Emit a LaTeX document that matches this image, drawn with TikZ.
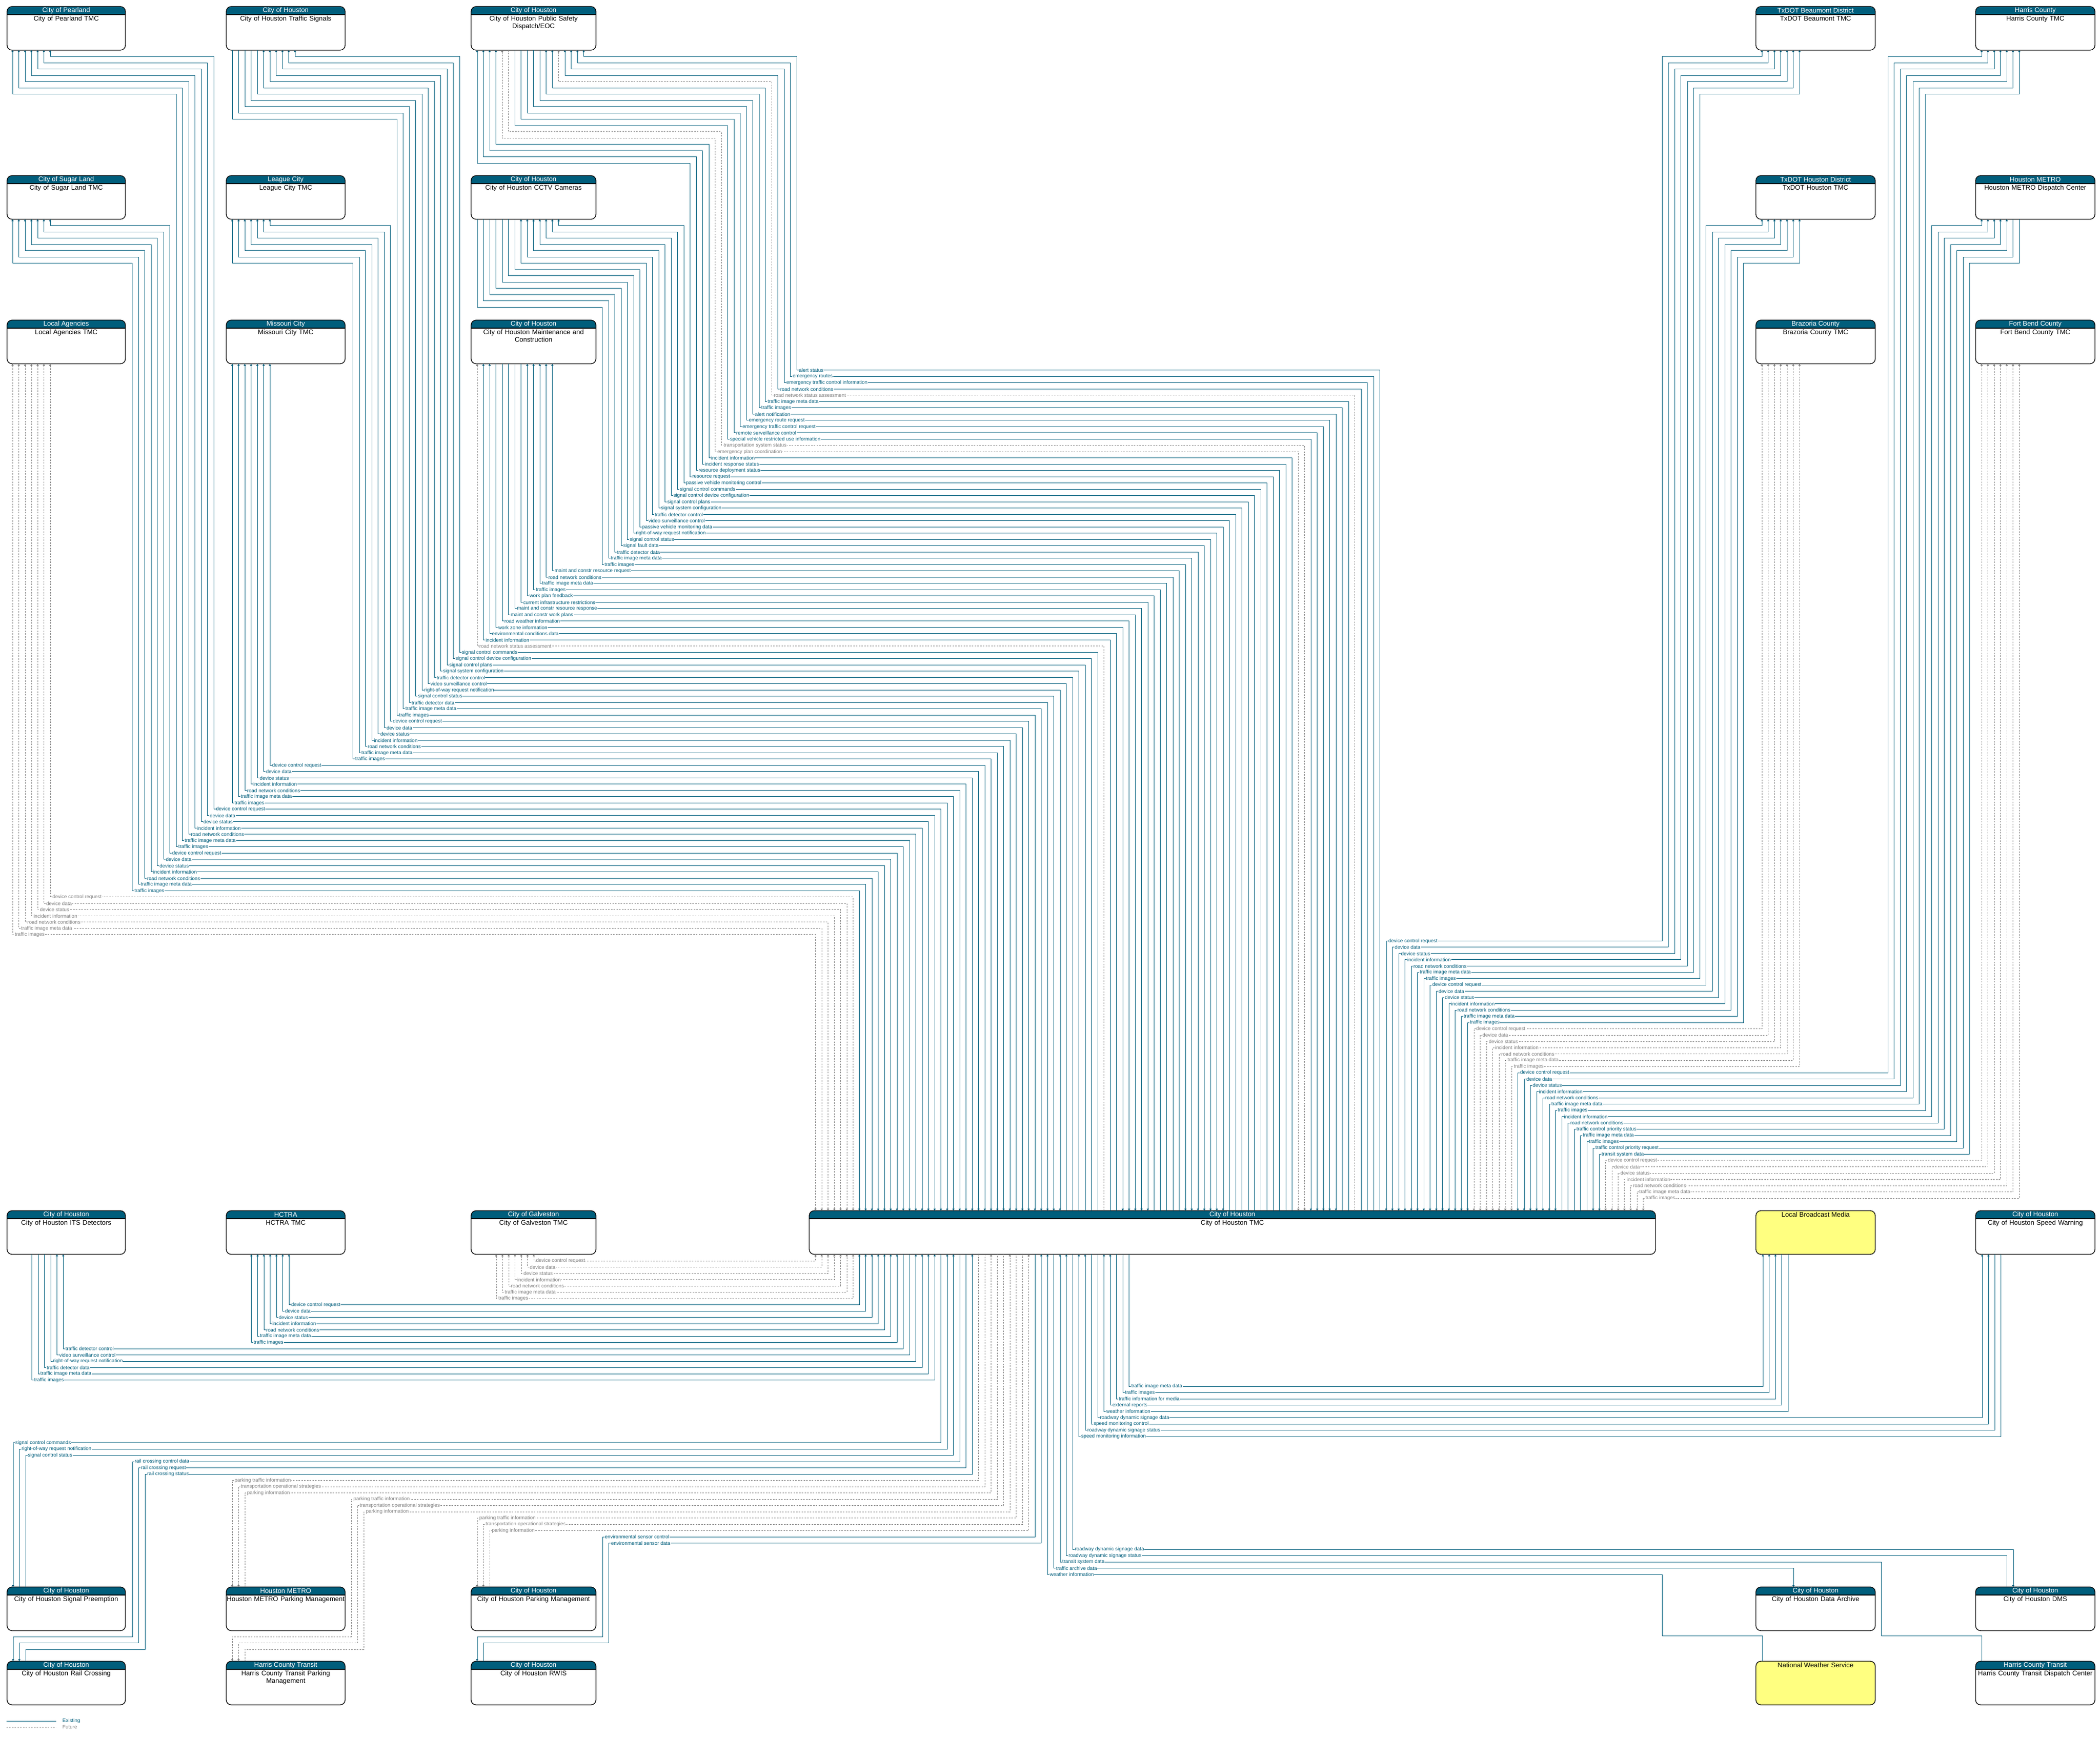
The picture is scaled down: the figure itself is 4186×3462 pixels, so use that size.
\documentclass[tikz,border=0pt]{standalone}
\usepackage{fontspec}
\setmainfont{Liberation Sans}
\usetikzlibrary{arrows.meta,fit}
\definecolor{hdr}{RGB}{0,94,124}
\definecolor{lineblue}{RGB}{0,94,124}
\definecolor{linegray}{RGB}{128,128,128}
\definecolor{mediayellow}{RGB}{255,255,128}
\newcommand\nodefont{\fontsize{3.8pt}{4.26pt}\selectfont}
\newcommand\labfont{\fontsize{2.85pt}{3.2pt}\selectfont}
\tikzset{
 >={Triangle[length=0.38mm,width=0.42mm]},
 ar/.is choice, ar/N/.style={<-}, ar/T/.style={->}, ar/B/.style={<->},
 flow/.is choice,
 flow/E/.style={draw=lineblue,line width=0.1mm},
 flow/F/.style={draw=linegray,line width=0.1mm,dash pattern=on 0.3mm off 0.25mm},
 lab/.is choice,
 lab/E/.style={text=lineblue},
 lab/F/.style={text=linegray},
 flab/.style={font=\labfont,fill=white,inner xsep=0.08mm,inner ysep=0pt,anchor=west},
 boxline/.style={draw=black,line width=0.14mm},
}
\newcommand\sysbox[7]{%
 \fill[white,rounded corners=1mm] (#2,#3) rectangle (#4,#5);
 \begin{scope}
  \clip (#2,#3) rectangle (#4,{#3+16});
  \fill[hdr,rounded corners=1mm] (#2,#3) rectangle (#4,#5);
 \end{scope}
 \draw[boxline] (#2,{#3+16}) -- (#4,{#3+16});
 \node[boxline,rounded corners=1mm,inner sep=0pt,outer sep=0pt,fit={(#2,#3) (#4,#5)}] (#1) {};
 \pgfmathsetmacro\bw{(#4-#2-2)*0.1}
 \node[font=\nodefont,text=white,inner sep=0pt] (#1-h) at ({(#2+#4)/2},{#3+8}) {#6};
 \node[font=\nodefont,text=black,inner sep=0pt,text width=\bw mm,align=center,anchor=north,
   execute at begin node={\hyphenpenalty=10000\exhyphenpenalty=10000}] (#1-b) at ({(#2+#4)/2},{#3+18}) {#7};
}
\newcommand\extbox[6]{%
 \node[boxline,fill=mediayellow,rounded corners=1mm,inner sep=0pt,outer sep=0pt,fit={(#2,#3) (#4,#5)}] (#1) {};
 \node[font=\nodefont,text=black,inner sep=0pt] (#1-h) at ({(#2+#4)/2},{#3+8}) {#6};
}
% top-left groups: node, r0, px0, y10, c0, direct(1/0), list
\newcommand\TLgroup[7]{%
 \edef\grplist{#7}%
 \foreach \Lb/\Fs/\Fa [count=\i from 0] in \grplist {%
  \pgfmathsetmacro\cc{#5-12.5*\i}%
  \pgfmathsetmacro\yr{738+12.5*(#2+\i)}%
  \pgfmathsetmacro\tx{2750.5-12.5*(#2+\i)}%
  \ifnum#6=1\relax
   \draw[flow=\Fs,ar=\Fa] (\cc,0|-#1.south) -- (\cc,\yr) -- (\tx,\yr) -- (\tx,0|-tmc.north);%
  \else
   \pgfmathsetmacro\px{#3-12.5*\i}%
   \pgfmathsetmacro\yy{#4+12.5*\i}%
   \draw[flow=\Fs,ar=\Fa] (\px,0|-#1.south) -- (\px,\yy) -- (\cc,\yy) -- (\cc,\yr) -- (\tx,\yr) -- (\tx,0|-tmc.north);%
  \fi
  \node[flab,lab=\Fs] (#1-l\i) at (\cc+3,\yr) {\Lb};%
 }%
}
% top-right groups: node, j0, px0, y10, c0, direct, list
\newcommand\TRgroup[7]{%
 \edef\grplist{#7}%
 \foreach \Lb/\Fs/\Fa [count=\i from 0] in \grplist {%
  \pgfmathsetmacro\cc{#5+12.5*\i}%
  \pgfmathsetmacro\yr{1875.5+12.5*(#2+\i)}%
  \pgfmathsetmacro\tx{2763+12.5*(#2+\i)}%
  \ifnum#6=1\relax
   \draw[flow=\Fs,ar=\Fa] (\cc,0|-#1.south) -- (\cc,\yr) -- (\tx,\yr) -- (\tx,0|-tmc.north);%
  \else
   \pgfmathsetmacro\px{#3+12.5*\i}%
   \pgfmathsetmacro\yy{#4+12.5*\i}%
   \draw[flow=\Fs,ar=\Fa] (\px,0|-#1.south) -- (\px,\yy) -- (\cc,\yy) -- (\cc,\yr) -- (\tx,\yr) -- (\tx,0|-tmc.north);%
  \fi
  \node[flab,lab=\Fs] (#1-l\i) at (\tx+3,\yr) {\Lb};%
 }%
}
% bottom-left, node above: node, b0, k0, c0, list
\newcommand\BLup[5]{%
 \edef\grplist{#5}%
 \foreach \Lb/\Fs/\Fa [count=\i from 0] in \grplist {%
  \pgfmathsetmacro\cc{#4-12.5*\i}%
  \pgfmathsetmacro\yb{2513+12.5*(#2+\i)}%
  \pgfmathsetmacro\tx{1625.5+12.5*(#3+\i)}%
  \draw[flow=\Fs,ar=\Fa] (\cc,0|-#1.south) -- (\cc,\yb) -- (\tx,\yb) -- (\tx,0|-tmc.south);%
  \node[flab,lab=\Fs] (#1-l\i) at (\cc+3,\yb) {\Lb};%
 }%
}
% bottom-left, node below, direct
\newcommand\BLdown[5]{%
 \edef\grplist{#5}%
 \foreach \Lb/\Fs/\Fa [count=\i from 0] in \grplist {%
  \pgfmathsetmacro\cc{#4+12.5*\i}%
  \pgfmathsetmacro\yb{2513+12.5*(#2+\i)}%
  \pgfmathsetmacro\tx{1625.5+12.5*(#3+\i)}%
  \draw[flow=\Fs,ar=\Fa] (\cc,0|-#1.north) -- (\cc,\yb) -- (\tx,\yb) -- (\tx,0|-tmc.south);%
  \node[flab,lab=\Fs] (#1-l\i) at (\cc+3,\yb) {\Lb};%
 }%
}
% bottom-left, node below with jog: node, b0, k0, px0, c0, list
\newcommand\BLjog[6]{%
 \edef\grplist{#6}%
 \foreach \Lb/\Fs/\Fa [count=\i from 0] in \grplist {%
  \pgfmathsetmacro\px{#4+12.5*\i}%
  \pgfmathsetmacro\yy{3262+12.5*\i}%
  \pgfmathsetmacro\cc{#5+12.5*\i}%
  \pgfmathsetmacro\yb{2513+12.5*(#2+\i)}%
  \pgfmathsetmacro\tx{1625.5+12.5*(#3+\i)}%
  \draw[flow=\Fs,ar=\Fa] (\px,0|-#1.north) -- (\px,\yy) -- (\cc,\yy) -- (\cc,\yb) -- (\tx,\yb) -- (\tx,0|-tmc.south);%
  \node[flab,lab=\Fs] (#1-l\i) at (\cc+3,\yb) {\Lb};%
 }%
}
% bottom-right, node above: node, b0, k0, px0, list
\newcommand\BRup[5]{%
 \edef\grplist{#5}%
 \foreach \Lb/\Fs/\Fa [count=\i from 0] in \grplist {%
  \pgfmathsetmacro\px{#4+12.5*\i}%
  \pgfmathsetmacro\yb{2513+12.5*(#2+\i)}%
  \pgfmathsetmacro\tx{1625.5+12.5*(#3-\i)}%
  \draw[flow=\Fs,ar=\Fa] (\px,0|-#1.south) -- (\px,\yb) -- (\tx,\yb) -- (\tx,0|-tmc.south);%
  \node[flab,lab=\Fs] (#1-l\i) at (\tx+3,\yb) {\Lb};%
 }%
}
% bottom-right, node below
\newcommand\BRdown[5]{%
 \edef\grplist{#5}%
 \foreach \Lb/\Fs/\Fa [count=\i from 0] in \grplist {%
  \pgfmathsetmacro\px{#4-12.5*\i}%
  \pgfmathsetmacro\yb{2513+12.5*(#2+\i)}%
  \pgfmathsetmacro\tx{1625.5+12.5*(#3-\i)}%
  \draw[flow=\Fs,ar=\Fa] (\px,0|-#1.north) -- (\px,\yb) -- (\tx,\yb) -- (\tx,0|-tmc.south);%
  \node[flab,lab=\Fs] (#1-l\i) at (\tx+3,\yb) {\Lb};%
 }%
}
\def\peerE{device control request/E/B,device data/E/B,device status/E/B,incident information/E/B,road network conditions/E/B,traffic image meta data/E/B,traffic images/E/B}
\def\peerF{device control request/F/B,device data/F/B,device status/F/B,incident information/F/B,road network conditions/F/B,traffic image meta data/F/B,traffic images/F/B}
\def\parkF{parking traffic information/F/N,transportation operational strategies/F/N,parking information/F/T}
\begin{document}
\begin{tikzpicture}[x=0.1mm,y=-0.1mm]
\useasboundingbox (0,0) rectangle (4186,3462);
\fill[white] (0,0) rectangle (4186,3462);
% ---------- nodes ----------
\sysbox{pear}{14}{13}{250}{100}{City of Pearland}{City of Pearland TMC}
\sysbox{sig}{451}{13}{688}{100}{City of Houston}{City of Houston Traffic Signals}
\sysbox{ps}{939}{13}{1188}{100}{City of Houston}{City of Houston Public Safety\\Dispatch/EOC}
\sysbox{bmt}{3500}{13}{3738}{100}{TxDOT Beaumont District}{TxDOT Beaumont TMC}
\sysbox{harris}{3938}{13}{4176}{100}{Harris County}{Harris County TMC}
\sysbox{sugar}{14}{350}{250}{437}{City of Sugar Land}{City of Sugar Land TMC}
\sysbox{league}{451}{350}{688}{437}{League City}{League City TMC}
\sysbox{cctv}{939}{350}{1188}{437}{City of Houston}{City of Houston CCTV Cameras}
\sysbox{txh}{3500}{350}{3738}{437}{TxDOT Houston District}{TxDOT Houston TMC}
\sysbox{metro}{3938}{350}{4176}{437}{Houston METRO}{Houston METRO Dispatch Center}
\sysbox{local}{14}{638}{250}{725}{Local Agencies}{Local Agencies TMC}
\sysbox{mo}{451}{638}{688}{725}{Missouri City}{Missouri City TMC}
\sysbox{maint}{939}{638}{1188}{725}{City of Houston}{City of Houston Maintenance and\\Construction}
\sysbox{braz}{3500}{638}{3738}{725}{Brazoria County}{Brazoria County TMC}
\sysbox{fb}{3938}{638}{4176}{725}{Fort Bend County}{Fort Bend County TMC}
\sysbox{its}{14}{2413}{250}{2500}{City of Houston}{City of Houston ITS Detectors}
\sysbox{hctra}{451}{2413}{688}{2500}{HCTRA}{HCTRA TMC}
\sysbox{galv}{939}{2413}{1188}{2500}{City of Galveston}{City of Galveston TMC}
\sysbox{tmc}{1613}{2413}{3300}{2500}{City of Houston}{City of Houston TMC}
\extbox{media}{3500}{2413}{3738}{2500}{Local Broadcast Media}
\sysbox{speed}{3938}{2413}{4176}{2500}{City of Houston}{City of Houston Speed Warning}
\sysbox{sigp}{14}{3163}{250}{3250}{City of Houston}{City of Houston Signal Preemption}
\sysbox{mpark}{451}{3163}{688}{3250}{Houston METRO}{Houston METRO Parking Management}
\sysbox{cpark}{939}{3163}{1188}{3250}{City of Houston}{City of Houston Parking Management}
\sysbox{arch}{3500}{3163}{3738}{3250}{City of Houston}{City of Houston Data Archive}
\sysbox{dms}{3938}{3163}{4176}{3250}{City of Houston}{City of Houston DMS}
\sysbox{rail}{14}{3311}{250}{3398}{City of Houston}{City of Houston Rail Crossing}
\sysbox{hcpark}{451}{3311}{688}{3398}{Harris County Transit}{Harris County Transit Parking\\Management}
\sysbox{rwis}{939}{3311}{1188}{3398}{City of Houston}{City of Houston RWIS}
\extbox{nws}{3500}{3311}{3738}{3398}{National Weather Service}
\sysbox{hctd}{3938}{3311}{4176}{3398}{Harris County Transit}{Harris County Transit Dispatch Center}
% ---------- top-left flows ----------
\TLgroup{ps}{0}{1163.5}{113}{1588}{0}{alert status/E/N,emergency routes/E/N,emergency traffic control information/E/N,road network conditions/E/N,road network status assessment/F/N,traffic image meta data/E/N,traffic images/E/N,alert notification/E/T,emergency route request/E/T,emergency traffic control request/E/T,remote surveillance control/E/T,special vehicle restricted use information/E/T,transportation system status/F/T,emergency plan coordination/F/B,incident information/E/N,incident response status/E/N,resource deployment status/E/N,resource request/E/N}
\TLgroup{cctv}{18}{1113.5}{450}{1363}{0}{passive vehicle monitoring control/E/N,signal control commands/E/N,signal control device configuration/E/N,signal control plans/E/N,signal system configuration/E/N,traffic detector control/E/N,video surveillance control/E/N,passive vehicle monitoring data/E/T,right-of-way request notification/E/T,signal control status/E/T,signal fault data/E/T,traffic detector data/E/T,traffic image meta data/E/T,traffic images/E/T}
\TLgroup{maint}{32}{0}{0}{1101}{1}{maint and constr resource request/E/N,road network conditions/E/N,traffic image meta data/E/N,traffic images/E/N,work plan feedback/E/N,current infrastructure restrictions/E/T,maint and constr resource response/E/T,maint and constr work plans/E/T,road weather information/E/T,work zone information/E/T,environmental conditions data/E/N,incident information/E/N,road network status assessment/F/N}
\TLgroup{sig}{45}{588}{113}{916}{0}{signal control commands/E/N,signal control device configuration/E/N,signal control plans/E/N,signal system configuration/E/N,traffic detector control/E/N,video surveillance control/E/N,right-of-way request notification/E/T,signal control status/E/T,traffic detector data/E/T,traffic image meta data/E/T,traffic images/E/T}
\TLgroup{league}{56}{538}{450}{778.5}{0}{\peerE}
\TLgroup{mo}{63}{0}{0}{538}{1}{\peerE}
\TLgroup{pear}{70}{100}{113}{426}{0}{\peerE}
\TLgroup{sugar}{77}{100}{450}{338.5}{0}{\peerE}
\TLgroup{local}{84}{0}{0}{100}{1}{\peerF}
% ---------- top-right flows ----------
\TRgroup{bmt}{0}{3512}{113}{3313}{0}{\peerE}
\TRgroup{txh}{7}{3512}{450}{3400.5}{0}{\peerE}
\TRgroup{braz}{14}{0}{0}{3512}{1}{\peerF}
\TRgroup{harris}{21}{3950}{113}{3763}{0}{\peerE}
\TRgroup{metro}{28}{3950}{450}{3850.5}{0}{incident information/E/N,road network conditions/E/N,traffic control priority status/E/N,traffic image meta data/E/N,traffic images/E/N,traffic control priority request/E/T,transit system data/E/T}
\TRgroup{fb}{35}{0}{0}{3950}{1}{\peerF}
% ---------- bottom flows ----------
\BLup{galv}{0}{0}{1064}{\peerF}
\BLup{hctra}{7}{7}{576}{\peerE}
\BLup{its}{14}{14}{126}{traffic detector control/E/N,video surveillance control/E/N,right-of-way request notification/E/T,traffic detector data/E/T,traffic image meta data/E/T,traffic images/E/T}
\BRup{media}{20}{50}{3514}{traffic image meta data/E/N,traffic images/E/N,traffic information for media/E/N,external reports/E/T,weather information/E/T}
\BRup{speed}{25}{45}{3951}{roadway dynamic signage data/E/N,speed monitoring control/E/N,roadway dynamic signage status/E/T,speed monitoring information/E/T}
\BLdown{sigp}{29}{20}{26}{signal control commands/E/N,right-of-way request notification/E/T,signal control status/E/T}
\BLjog{rail}{32}{23}{26}{264}{rail crossing control data/E/N,rail crossing request/E/N,rail crossing status/E/T}
\BLdown{mpark}{35}{26}{463}{\parkF}
\BLjog{hcpark}{38}{29}{463}{700}{\parkF}
\BLdown{cpark}{41}{32}{951}{\parkF}
\BLjog{rwis}{44}{35}{951}{1201}{environmental sensor control/E/N,environmental sensor data/E/T}
\BRdown{dms}{46}{41}{4013}{roadway dynamic signage data/E/N,roadway dynamic signage status/E/T}
\draw[flow=E,ar=T] (3950,0|-hctd.north) -- (3950,3260) -- (3750,3260) -- (3750,3113) -- (2113,3113) -- (2113,0|-tmc.south);
\node[flab,lab=E] (hctd-l0) at (2116,3113) {transit system data};
\draw[flow=E,ar=N] (3575,0|-arch.north) -- (3575,3125.5) -- (2100.5,3125.5) -- (2100.5,0|-tmc.south);
\node[flab,lab=E] (arch-l0) at (2103.5,3125.5) {traffic archive data};
\draw[flow=E,ar=T] (3513,0|-nws.north) -- (3513,3260) -- (3313,3260) -- (3313,3138) -- (2088,3138) -- (2088,0|-tmc.south);
\node[flab,lab=E] (nws-l0) at (2091,3138) {weather information};
% ---------- legend ----------
\coordinate (lgEa) at (13,3430); \coordinate (lgEb) at (112,3430);
\coordinate (lgFa) at (13,3442); \coordinate (lgFb) at (112,3442);
\draw[flow=E] (lgEa) -- (lgEb);
\draw[flow=F] (lgFa) -- (lgFb);
\node[font=\labfont,text=lineblue,anchor=west,inner sep=0pt] (lgE) at (124,3430) {Existing};
\node[font=\labfont,text=linegray,anchor=west,inner sep=0pt] (lgF) at (124,3442) {Future};
\end{tikzpicture}
\end{document}
